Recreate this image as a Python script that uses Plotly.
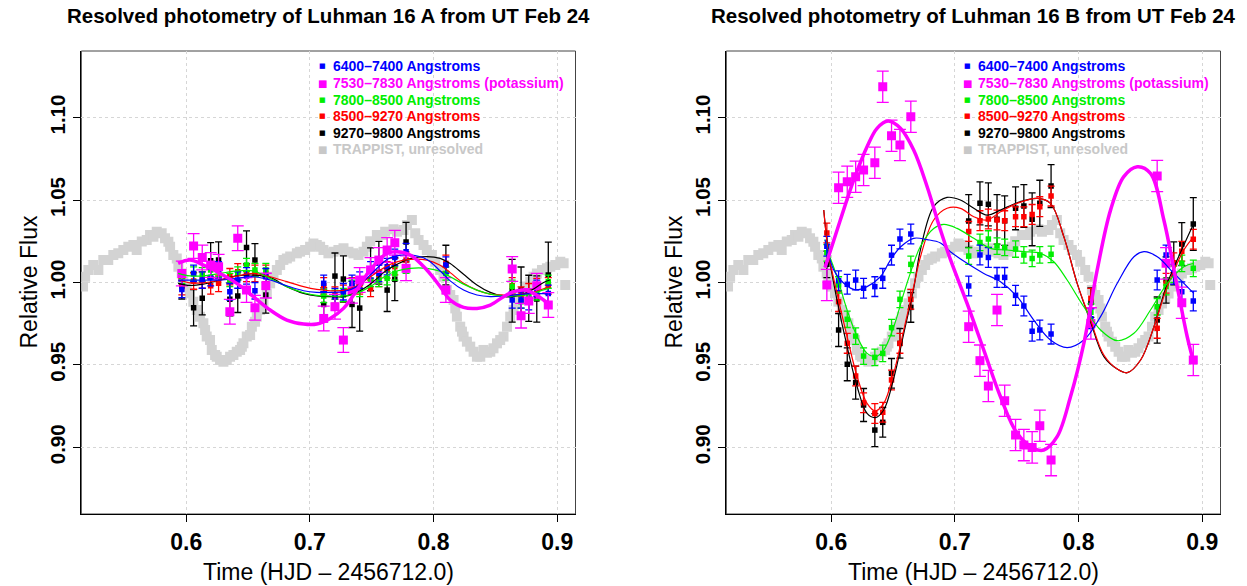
import plotly.graph_objects as go

# ---------------- data ----------------
T = [0.5965, 0.6060, 0.6130, 0.6198, 0.6262, 0.6353, 0.6417, 0.6488, 0.6556, 0.6644,
     0.7112, 0.7203, 0.7271, 0.7341, 0.7403, 0.7491, 0.7558, 0.7625, 0.7687, 0.7778,
     0.8100, 0.8636, 0.8708, 0.8770, 0.8835, 0.8928]

series_names = ["6400\u20137400 Angstroms", "7530\u20137830 Angstroms (potassium)",
                "7800\u20138500 Angstroms", "8500\u20139270 Angstroms", "9270\u20139800 Angstroms"]
series_colors = ["#0000ff", "#ff00ff", "#00ee00", "#ff0000", "#000000"]
trappist_name = "TRAPPIST, unresolved"
trappist_color = "#d3d3d3"

# --- Luhman 16 A ---
A_blue = [0.9958, 1.0055, 1.0015, 1.0030, 1.0076, 0.9944, 1.0015, 1.0040, 0.9950, 1.0035,
          0.9995, 0.9914, 0.9944, 0.9995, 1.0015, 1.0076, 1.0055, 1.0096, 1.0152, 1.0187,
          1.0106, 0.9894, 0.9894, 0.9884, 0.9964, 0.9934]
A_mag = [1.0055, 1.0221, 1.0152, 1.0106, 1.0096, 0.9823, 1.0268, 0.9955, 0.9847, 0.9981,
         0.9782, 0.9853, 0.9651, 0.9950, 1.0015, 1.0076, 1.0136, 1.0197, 1.0241, 1.0086,
         0.9954, 1.0082, 0.9799, 0.9888, 0.9980, 0.9863]
A_green = [1.0035, 1.0055, 1.0050, 1.0076, 1.0076, 1.0015, 1.0055, 1.0106, 1.0076, 1.0076,
           0.9918, 0.9914, 0.9924, 0.9975, 0.9954, 1.0015, 1.0015, 1.0025, 1.0055, 1.0096,
           1.0055, 0.9975, 0.9884, 0.9914, 0.9934, 1.0005]
A_red = [0.9975, 1.0009, 1.0015, 0.9980, 0.9995, 1.0035, 1.0065, 1.0055, 1.0055, 1.0055,
         0.9980, 0.9924, 0.9934, 0.9980, 0.9980, 0.9964, 1.0025, 1.0076, 1.0096, 1.0136,
         1.0116, 0.9980, 0.9924, 0.9944, 0.9975, 0.9980]
A_black = [0.9980, 0.9847, 0.9904, 1.0132, 1.0136, 0.9898, 0.9918, 1.0213, 1.0136, 0.9924,
           0.9867, 1.0039, 1.0021, 0.9867, 0.9845, 1.0080, 1.0120, 0.9954, 1.0020, 1.0245,
           1.0106, 0.9950, 0.9954, 0.9904, 0.9900, 1.0045]
A_err = [0.005, 0.0075, 0.004, 0.005, None]
A_black_err = [0.008, 0.011, 0.010, 0.011, 0.011, 0.010, 0.010, 0.010, 0.010, 0.011,
               0.010, 0.014, 0.014, 0.014, 0.014, 0.013, 0.013, 0.013, 0.013, 0.012,
               0.012, 0.019, 0.014, 0.014, 0.014, 0.020]

# fitted curves
A_fit_x = [0.5935, 0.6031, 0.6139, 0.6274, 0.6409, 0.6544, 0.6679, 0.6814, 0.6949, 0.7056,
           0.7164, 0.7272, 0.7380, 0.7488, 0.7623, 0.7704, 0.7811, 0.7946, 0.8054, 0.8135,
           0.8243, 0.8351, 0.8459, 0.8566, 0.8647, 0.8728, 0.8809, 0.8890, 0.8940]
A_fit_blue = [1.0015, 1.0015, 1.0015, 1.0015, 1.0025, 1.0035, 1.0015, 0.9980, 0.9950, 0.9940,
              0.9940, 0.9945, 0.9975, 1.0045, 1.0140, 1.0162, 1.0167, 1.0140, 1.0070, 1.0010,
              0.9954, 0.9924, 0.9914, 0.9918, 0.9924, 0.9930, 0.9934, 0.9932, 0.9930]
A_fit_mag = [1.0116, 1.0136, 1.0106, 1.0055, 0.9995, 0.9914, 0.9833, 0.9772, 0.9748, 0.9748,
             0.9782, 0.9843, 0.9954, 1.0076, 1.0177, 1.0187, 1.0167, 1.0076, 0.9975, 0.9894,
             0.9849, 0.9843, 0.9863, 0.9914, 0.9944, 0.9954, 0.9934, 0.9894, 0.9863]
A_fit_green = [1.0055, 1.0040, 1.0040, 1.0055, 1.0070, 1.0070, 1.0025, 0.9975, 0.9938, 0.9922,
               0.9918, 0.9918, 0.9935, 0.9975, 1.0045, 1.0070, 1.0086, 1.0086, 1.0068, 1.0035,
               0.9990, 0.9954, 0.9930, 0.9920, 0.9918, 0.9922, 0.9935, 0.9955, 0.9964]
A_fit_red = [1.0015, 0.9998, 0.9998, 1.0015, 1.0039, 1.0055, 1.0035, 1.0005, 0.9975, 0.9958,
             0.9950, 0.9952, 0.9980, 1.0035, 1.0100, 1.0125, 1.0140, 1.0136, 1.0105, 1.0060,
             0.9995, 0.9954, 0.9930, 0.9924, 0.9924, 0.9930, 0.9940, 0.9962, 0.9975]
A_fit_black = [0.9995, 0.9982, 0.9990, 1.0015, 1.0040, 1.0045, 1.0030, 0.9975, 0.9934, 0.9918,
               0.9914, 0.9914, 0.9940, 0.9990, 1.0075, 1.0110, 1.0145, 1.0157, 1.0146, 1.0115,
               1.0050, 0.9985, 0.9940, 0.9916, 0.9914, 0.9930, 0.9960, 1.0000, 1.0015]

# --- Luhman 16 B ---
B_blue = [1.0220, 1.0011, 0.9989, 1.0015, 0.9965, 0.9975, 1.0025, 1.0166, 1.0264, 1.0294,
          0.9979, 1.0167, 1.0152, 1.0031, 1.0031, 0.9922, 0.9857, 0.9704, 0.9712, 0.9687,
          0.9780, 1.0015, 1.0167, 1.0050, 0.9944, 0.9888]
B_mag = [0.9985, 1.0575, 1.0611, 1.0641, 1.0682, 1.0726, 1.1187, 1.0890, 1.0834, 1.1005,
         0.9732, 0.9526, 0.9372, 0.9833, 0.9283, 0.9075, 0.9014, 0.9000, 0.9131, 0.8923,
         0.9752, 1.0646, 1.0116, None, 0.9877, 0.9530]
B_green = [1.0180, 0.9985, 0.9777, 0.9675, 0.9554, 0.9546, 0.9570, 0.9726, 0.9898, 1.0110,
           1.0160, 1.0243, 1.0264, 1.0221, 1.0213, 1.0203, 1.0167, 1.0146, 1.0167, 1.0171,
           0.9820, 0.9853, 0.9975, 1.0050, 1.0116, 1.0086]
B_red = [1.0300, 0.9884, 0.9631, 0.9433, 0.9271, 0.9206, 0.9213, 0.9409, 0.9631, 0.9898,
         1.0310, 1.0375, 1.0385, 1.0379, 1.0375, 1.0399, 1.0399, 1.0413, 1.0460, 1.0524,
         0.9904, 0.9722, 0.9995, 1.0120, 1.0190, 1.0262]
B_black = [1.0110, 0.9712, 0.9504, 0.9393, 0.9257, 0.9105, 0.9152, 0.9449, 0.9631, 0.9849,
           1.0373, 1.0480, 1.0474, 1.0383, 1.0375, 1.0450, 1.0464, 1.0383, 1.0480, 1.0585,
           0.9878, 0.9772, 1.0015, 1.0116, 1.0233, 1.0355]
B_err = [0.006, 0.0095, 0.005, 0.006, None]
B_black_err = [0.008, 0.010, 0.010, 0.010, 0.010, 0.010, 0.009, 0.009, 0.009, 0.009,
               0.016, 0.013, 0.013, 0.015, 0.015, 0.013, 0.013, 0.016, 0.014, 0.013,
               0.009, 0.014, 0.014, 0.013, 0.013, 0.016]

B_fit_blue_x = [0.5950, 0.6021, 0.6102, 0.6196, 0.6290, 0.6398, 0.6479, 0.6560, 0.6667, 0.6776,
                0.6884, 0.6964, 0.7099, 0.7234, 0.7369, 0.7504, 0.7638, 0.7773, 0.7908, 0.8043,
                0.8178, 0.8313, 0.8448, 0.8529, 0.8637, 0.8772, 0.8906, 0.8933]
B_fit_blue = [1.0260, 1.0076, 0.9995, 0.9955, 0.9975, 1.0035, 1.0136, 1.0215, 1.0268, 1.0260,
              1.0240, 1.0187, 1.0116, 1.0055, 1.0005, 0.9914, 0.9772, 0.9651, 0.9605, 0.9651,
              0.9793, 0.9995, 1.0156, 1.0187, 1.0156, 1.0055, 0.9954, 0.9934]
B_fit_mag_x = [0.5950, 0.6074, 0.6182, 0.6290, 0.6371, 0.6460, 0.6560, 0.6667, 0.6776, 0.6884,
               0.6964, 0.7099, 0.7234, 0.7369, 0.7504, 0.7638, 0.7719, 0.7827, 0.7935, 0.8043,
               0.8151, 0.8259, 0.8366, 0.8475, 0.8582, 0.8690, 0.8798, 0.8879, 0.8933]
B_fit_mag = [1.0090, 1.0379, 1.0621, 1.0823, 1.0935, 1.0979, 1.0935, 1.0803, 1.0581, 1.0318,
             1.0140, 0.9873, 0.9590, 0.9307, 0.9085, 0.8994, 0.8984, 0.9065, 0.9307, 0.9631,
             1.0076, 1.0439, 1.0642, 1.0702, 1.0662, 1.0379, 0.9975, 0.9671, 0.9510]
B_fit_green_x = [0.5950, 0.5980, 0.6047, 0.6129, 0.6210, 0.6290, 0.6357, 0.6425, 0.6506, 0.6587,
                 0.6667, 0.6722, 0.6829, 0.6910, 0.7018, 0.7153, 0.7288, 0.7423, 0.7558, 0.7693,
                 0.7800, 0.7908, 0.8043, 0.8178, 0.8313, 0.8448, 0.8582, 0.8718, 0.8852, 0.8933]
B_fit_green = [1.0260, 1.0177, 1.0035, 0.9833, 0.9671, 0.9570, 0.9550, 0.9590, 0.9732, 0.9934,
               1.0116, 1.0220, 1.0328, 1.0352, 1.0328, 1.0268, 1.0207, 1.0197, 1.0187, 1.0177,
               1.0126, 1.0015, 0.9853, 0.9712, 0.9647, 0.9692, 0.9833, 0.9995, 1.0096, 1.0116]
B_fit_rk_x = [0.5940, 0.5980, 0.6047, 0.6129, 0.6210, 0.6290, 0.6357, 0.6425, 0.6506, 0.6587,
              0.6667, 0.6722, 0.6829, 0.6937, 0.7045, 0.7153, 0.7261, 0.7369, 0.7504, 0.7666,
              0.7773, 0.7881, 0.7989, 0.8097, 0.8205, 0.8313, 0.8394, 0.8502, 0.8610, 0.8718,
              0.8852, 0.8933]
B_fit_red = [1.0440, 1.0170, 0.9935, 0.9671, 0.9429, 0.9267, 0.9221, 0.9267, 0.9449, 0.9712,
             0.9975, 1.0156, 1.0379, 1.0450, 1.0450, 1.0399, 1.0379, 1.0429, 1.0480, 1.0510,
             1.0480, 1.0278, 0.9995, 0.9772, 0.9560, 0.9475, 0.9453, 0.9530, 0.9732, 0.9975,
             1.0197, 1.0278]
B_fit_black = [1.0440, 1.0170, 0.9894, 0.9611, 0.9368, 0.9206, 0.9181, 0.9227, 0.9419, 0.9692,
               0.9964, 1.0200, 1.0460, 1.0516, 1.0500, 1.0450, 1.0409, 1.0439, 1.0484, 1.0510,
               1.0480, 1.0278, 0.9995, 0.9762, 0.9550, 0.9475, 0.9453, 0.9530, 0.9732, 0.9995,
               1.0227, 1.0359]

# --- TRAPPIST unresolved light curve (two passes of reading the gray band) ---
TR_t = [0.5183, 0.5249, 0.5330, 0.5411, 0.5492, 0.5573, 0.5641, 0.5708, 0.5762, 0.5829,
        0.5870, 0.5896, 0.5937, 0.5977, 0.6031, 0.6086, 0.6139, 0.6166, 0.6207, 0.6247,
        0.6301, 0.6355, 0.6409, 0.6450, 0.6490, 0.6531, 0.6571, 0.6625, 0.6679, 0.6733,
        0.6786, 0.6841, 0.6921, 0.7002, 0.7056, 0.7110, 0.7191, 0.7272, 0.7353, 0.7434,
        0.7488, 0.7542, 0.7609, 0.7676, 0.7757, 0.7825, 0.7879, 0.7919, 0.7987, 0.8054,
        0.8108, 0.8162, 0.8189, 0.8216, 0.8243, 0.8297, 0.8351, 0.8404, 0.8459, 0.8513,
        0.8566, 0.8594, 0.8647, 0.8701, 0.8756, 0.8809, 0.8877, 0.8944, 0.9025, 0.9065]
TR_f = [1.0035, 1.0106, 1.0137, 1.0167, 1.0197, 1.0228, 1.0248, 1.0288, 1.0308, 1.0268,
        1.0217, 1.0167, 1.0096, 1.0015, 0.9935, 0.9833, 0.9753, 0.9672, 0.9591, 0.9550,
        0.9520, 0.9550, 0.9580, 0.9611, 0.9672, 0.9732, 0.9793, 0.9874, 0.9995, 1.0076,
        1.0137, 1.0157, 1.0187, 1.0217, 1.0228, 1.0197, 1.0187, 1.0208, 1.0177, 1.0187,
        1.0250, 1.0288, 1.0308, 1.0323, 1.0318, 1.0379, 1.0258, 1.0228, 1.0167, 1.0076,
        0.9955, 0.9894, 0.9793, 0.9732, 0.9672, 0.9611, 0.9550, 0.9591, 0.9580, 0.9631,
        0.9672, 0.9732, 0.9833, 0.9904, 0.9975, 1.0035, 1.0076, 1.0096, 1.0126, 0.9985]
TR2_t = [0.5166, 0.5209, 0.5290, 0.5370, 0.5451, 0.5532, 0.5600, 0.5681, 0.5735, 0.5802,
         0.5856, 0.5924, 0.5964, 0.6005, 0.6058, 0.6112, 0.6153, 0.6193, 0.6234, 0.6274,
         0.6328, 0.6382, 0.6436, 0.6463, 0.6517, 0.6557, 0.6598, 0.6652, 0.6706, 0.6760,
         0.6814, 0.6895, 0.6962, 0.7029, 0.7083, 0.7150, 0.7231, 0.7312, 0.7393, 0.7461,
         0.7582, 0.7704, 0.7785, 0.7852, 0.7946, 0.8014, 0.8081, 0.8135, 0.8176, 0.8230,
         0.8270, 0.8324, 0.8378, 0.8432, 0.8485, 0.8539, 0.8620, 0.8675, 0.8728, 0.8782,
         0.8836, 0.8917, 0.8985, 0.9052]
TR2_f = [0.9975, 1.0076, 1.0076, 1.0136, 1.0177, 1.0217, 1.0197, 1.0258, 1.0278, 1.0298,
         1.0247, 1.0146, 1.0055, 0.9975, 0.9884, 0.9793, 0.9712, 0.9651, 0.9560, 0.9530,
         0.9530, 0.9560, 0.9590, 0.9631, 0.9681, 0.9762, 0.9833, 0.9934, 1.0035, 1.0106,
         1.0146, 1.0177, 1.0197, 1.0237, 1.0217, 1.0177, 1.0197, 1.0187, 1.0167, 1.0217,
         1.0288, 1.0308, 1.0348, 1.0298, 1.0197, 1.0126, 1.0035, 0.9924, 0.9843, 0.9702,
         0.9641, 0.9580, 0.9550, 0.9574, 0.9601, 0.9651, 0.9793, 0.9873, 0.9934, 1.0005,
         1.0055, 1.0086, 1.0106, 1.0116]

x_ticks = [0.6, 0.7, 0.8, 0.9]
x_ticktext = ["0.6", "0.7", "0.8", "0.9"]
y_ticks = [0.90, 0.95, 1.00, 1.05, 1.10]
y_ticktext = ["0.90", "0.95", "1.00", "1.05", "1.10"]
titles = ["Resolved photometry of Luhman 16 A from UT Feb 24",
          "Resolved photometry of Luhman 16 B from UT Feb 24"]
x_title = "Time (HJD \u2013 2456712.0)"
y_title = "Relative Flux"

# ---------------- figure ----------------
W, H = 1247, 586
FONT = "Liberation Sans, Arial, Helvetica, sans-serif"
fig = go.Figure()

panels = [
    dict(xa="x", ya="y",
         pts=[A_blue, A_mag, A_green, A_red, A_black], err=A_err, kerr=A_black_err,
         fits=[(A_fit_x, A_fit_blue), (A_fit_x, A_fit_mag), (A_fit_x, A_fit_green),
               (A_fit_x, A_fit_red), (A_fit_x, A_fit_black)]),
    dict(xa="x2", ya="y2",
         pts=[B_blue, B_mag, B_green, B_red, B_black], err=B_err, kerr=B_black_err,
         fits=[(B_fit_blue_x, B_fit_blue), (B_fit_mag_x, B_fit_mag),
               (B_fit_green_x, B_fit_green), (B_fit_rk_x, B_fit_red),
               (B_fit_rk_x, B_fit_black)]),
]

for p in panels:
    fig.add_trace(go.Scatter(x=TR_t + TR2_t, y=TR_f + TR2_f, mode="markers",
                             xaxis=p["xa"], yaxis=p["ya"],
                             marker=dict(symbol="square", size=10, color=trappist_color),
                             name=trappist_name, showlegend=False, hoverinfo="skip"))
    order = [4, 3, 2, 0, 1]
    for i in order:
        big = (i == 1)
        if i == 4:
            ey = dict(type="data", array=p["kerr"])
        else:
            ey = dict(type="constant", value=p["err"][i])
        ey.update(color=series_colors[i], thickness=1.3, width=6 if big else 3.5)
        fig.add_trace(go.Scatter(
            x=T, y=p["pts"][i], mode="markers", xaxis=p["xa"], yaxis=p["ya"],
            marker=dict(symbol="square", size=9 if big else 5.5, color=series_colors[i]),
            error_y=ey, name=series_names[i], showlegend=False, hoverinfo="skip"))
    for i in order:
        fx, fy = p["fits"][i]
        fig.add_trace(go.Scatter(
            x=fx, y=fy, mode="lines", xaxis=p["xa"], yaxis=p["ya"],
            line=dict(color=series_colors[i], width=3.5 if i == 1 else 1.2,
                      shape="spline", smoothing=1.0),
            showlegend=False, hoverinfo="skip"))

xdom = [[81.3 / W, 575.5 / W], [726.3 / W, 1220.5 / W]]
ydom = [1 - 514 / H, 1 - 51 / H]

axis_common = dict(showgrid=True, gridcolor="#d6d6d6", griddash="dot", gridwidth=1,
                   zeroline=False, ticks="outside", ticklen=7, tickcolor="black",
                   tickwidth=1, showline=True, linecolor="black", linewidth=1)
xtickfont = dict(family=FONT, size=23, color="black", weight="bold")
ytickfont = dict(family=FONT, size=20.5, color="black", weight="bold")

leg_rows_y = [66, 83, 100, 116, 132.5, 149]
leg_colors = series_colors + ["#c8c8c8"]
leg_labels = series_names + [trappist_name]
leg_glyph_size = [7, 10, 7, 7, 7, 10]

for k in range(2):
    sx = "" if k == 0 else "2"
    fig.update_layout(**{
        "xaxis" + sx: dict(axis_common, domain=xdom[k], range=[0.5152, 0.9148],
                           tickvals=x_ticks, ticktext=x_ticktext, anchor="y" + sx,
                           tickfont=xtickfont),
        "yaxis" + sx: dict(axis_common, domain=ydom, range=[0.8596, 1.1404],
                           tickvals=y_ticks, ticktext=y_ticktext, tickangle=-90,
                           anchor="x" + sx, tickfont=ytickfont),
    })
    xr = "x" + sx + " domain"
    yr = "y" + sx + " domain"
    fig.add_shape(type="rect", xref=xr, yref=yr, x0=0, x1=1, y0=0, y1=1,
                  line=dict(color="#444444", width=1), layer="below")
    fig.add_annotation(text="<b>%s</b>" % titles[k], xref=xr, yref="paper", x=0.5,
                       y=1 - 16 / H, yanchor="middle", showarrow=False,
                       font=dict(family=FONT, size=20.5, color="black"))
    fig.add_annotation(text=x_title, xref=xr, yref="paper", x=0.5, y=1 - 572 / H,
                       yanchor="middle", showarrow=False,
                       font=dict(family=FONT, size=23, color="black"))
    fig.add_annotation(text=y_title, xref="paper", yref=yr,
                       x=(28 if k == 0 else 673) / W, y=0.5, xanchor="center",
                       yanchor="middle", textangle=-90, showarrow=False,
                       font=dict(family=FONT, size=23, color="black"))
    # legend (text entries with square glyphs)
    off = 0 if k == 0 else 645
    for r in range(6):
        fig.add_annotation(text="\u25A0", xref="paper", yref="paper",
                           x=(322 + off) / W, y=1 - leg_rows_y[r] / H,
                           xanchor="center", yanchor="middle", showarrow=False,
                           font=dict(family="DejaVu Sans", size=leg_glyph_size[r],
                                     color=leg_colors[r]))
        fig.add_annotation(text="<b>%s</b>" % leg_labels[r], xref="paper", yref="paper",
                           x=(331 + off) / W, y=1 - leg_rows_y[r] / H,
                           xanchor="left", yanchor="middle", showarrow=False,
                           font=dict(family=FONT, size=14, color=leg_colors[r]))

fig.update_layout(
    width=W, height=H, margin=dict(l=0, r=0, t=0, b=0),
    paper_bgcolor="white", plot_bgcolor="white", showlegend=False,
)

fig.write_html("out.html", config={"displayModeBar": False, "staticPlot": True},
               post_script="document.body.style.margin='0px';document.body.style.overflow='hidden';")
